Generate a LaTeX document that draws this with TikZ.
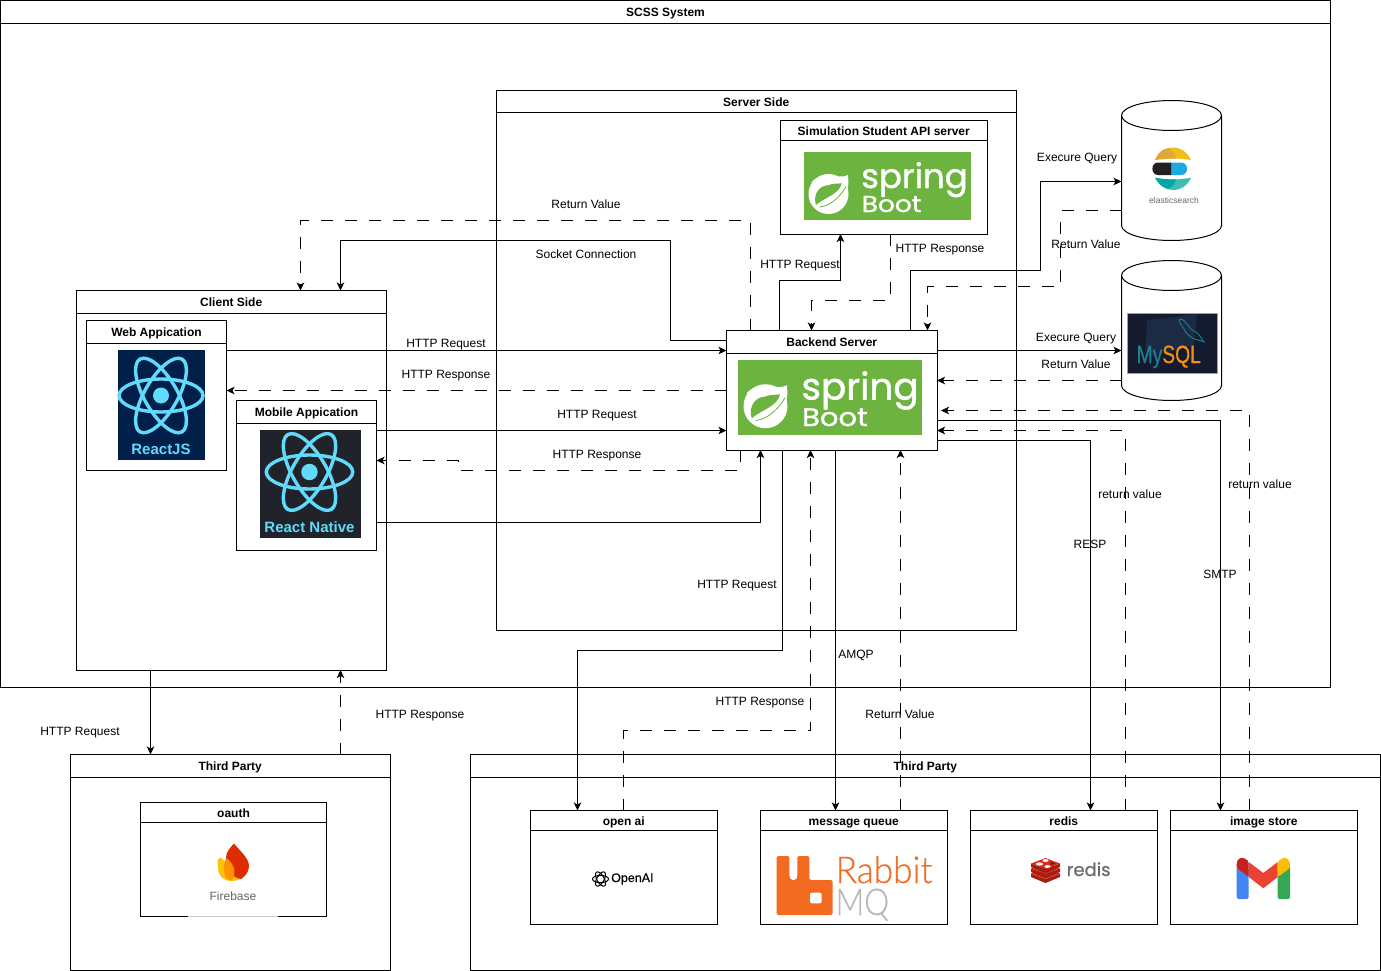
\documentclass[tikz,border=0pt]{standalone}
\usepackage{fontspec}
\setmainfont{Liberation Sans}
\newfontfamily\logofont[FakeBold=1.2]{Poppins}
\newfontfamily\redisfont[FakeBold=0.6]{Poppins}
\newfontfamily\semifont[FakeBold=0.5]{Liberation Sans}
\newfontfamily\lightfont[FakeBold=0.4]{Lato Light}
\usetikzlibrary{arrows.meta,calc}
\definecolor{reactblue}{HTML}{61DAFB}
\definecolor{springgreen}{HTML}{6DB33F}
\definecolor{gmailred}{HTML}{EA4335}
\definecolor{rabbit}{HTML}{F26B21}
\definecolor{reactnavy}{HTML}{00204A}
\definecolor{reactdark}{HTML}{20232A}
\definecolor{esyellow}{HTML}{F0BF1A}
\definecolor{esochre}{HTML}{DFA83A}
\definecolor{esblack}{HTML}{231F20}
\definecolor{esblue}{HTML}{1BA9E1}
\definecolor{esteal}{HTML}{3EBEB0}
\definecolor{esdeep}{HTML}{07A5A4}
\definecolor{myborder}{HTML}{9AA0AC}
\definecolor{myback}{HTML}{151B2E}
\definecolor{mylap}{HTML}{1D2A44}
\definecolor{myteal}{HTML}{1C7F93}
\definecolor{myorange}{HTML}{F29111}
\definecolor{fbyellow}{HTML}{FFC400}
\definecolor{fbred}{HTML}{DD2C00}
\definecolor{fborange}{HTML}{FF9100}
\definecolor{rdark}{HTML}{A41E11}
\definecolor{rmain}{HTML}{D82C20}
\definecolor{rdeep}{HTML}{7A0C00}
\definecolor{gblue}{HTML}{4285F4}
\definecolor{ggreen}{HTML}{34A853}
\definecolor{gdark}{HTML}{C5221F}
\definecolor{gyellow}{HTML}{FBBC04}
\tikzset{
  framebox/.style={draw=black,line width=1pt,inner sep=0pt,outer sep=0pt,anchor=north west},
  headbox/.style={draw=black,line width=1pt,inner sep=0pt,outer sep=0pt,anchor=north west,text height=11.5pt,text depth=1.5pt,font=\fontsize{12}{14}\selectfont\bfseries},
  lbl/.style={inner sep=0pt,text height=10.5pt,text depth=2.5pt,font=\fontsize{12}{14}\selectfont},
  solidarrow/.style={draw=black,line width=1pt,-{Stealth[length=8pt,width=7.5pt,inset=2pt]}},
  dasharrow/.style={solidarrow,dash pattern=on 12pt off 12pt},
  logotext/.style={inner sep=0pt,anchor=base west,transform shape},
  dbbody/.style={inner sep=0pt,outer sep=0pt,anchor=north west,minimum width=100pt,minimum height=140pt},
}
% name, x0, y0, x1, y1, header height, title
\newcommand{\swim}[7]{%
  \pgfmathsetlengthmacro{\bw}{#4-#2}\pgfmathsetlengthmacro{\bh}{#5-#3}%
  \node[framebox,minimum width=\bw,minimum height=\bh] (#1) at (#2-.5,#3-.5) {};
  \node[headbox,minimum width=\bw,minimum height=#6pt] (#1-title) at (#2-.5,#3-.5) {#7};
}
\newcommand{\springlogo}[3]{%
 \begin{scope}[shift={(#1,#2)},scale=#3]
  \fill[springgreen] (0,0) rectangle (167,68);
  \fill[white] (25,42) circle[radius=20pt];
  \fill[white] (8,30) .. controls (20,18) and (35,28) .. (44.5,23) .. controls (46,40) and (42,50) .. (34,58) -- (20,50) -- cycle;
  \fill[springgreen] (12.4,53) .. controls (9,41) and (17,33.3) .. (24.5,33.3) .. controls (30,31) and (34,32) .. (38.2,31.2) .. controls (36,42) and (22,45) .. cycle;
  \draw[springgreen,line width=.8pt] (16,55) .. controls (26,54) and (36,46) .. (42.7,34.3);
  \node[logotext,white,font=\logofont\fontsize{34}{34}\selectfont] at (57.5,36) {spring};
  \node[logotext,white,font=\logofont\fontsize{23}{23}\selectfont,xscale=1.15] at (58,60) {Boot};
 \end{scope}}
\newcommand{\atom}[3]{%
 \begin{scope}[shift={(#1,#2)},scale=#3]
  \foreach \ang in {0,60,120}
   \draw[reactblue,line width=3.4pt,rotate=\ang] (0,0) ellipse[x radius=42pt,y radius=16.5pt];
  \fill[reactblue] (0,0) circle[radius=8pt];
 \end{scope}}
\newcommand{\dbpath}[1]{%
  \begin{scope}[shift={(#1.north west)}]
  \draw[line width=1pt,fill=white] (0,15) .. controls (0,6.7) and (22.4,0) .. (50,0) .. controls (77.6,0) and (100,6.7) .. (100,15) -- (100,125) .. controls (100,133.3) and (77.6,140) .. (50,140) .. controls (22.4,140) and (0,133.3) .. (0,125) -- cycle;
  \draw[line width=1pt] (0,15) .. controls (0,23.3) and (22.4,30) .. (50,30) .. controls (77.6,30) and (100,23.3) .. (100,15);
  \end{scope}}
\begin{document}
\begin{tikzpicture}[x=1pt,y=-1pt]
\useasboundingbox (0,0) rectangle (1381,971);
\fill[white] (0,0) rectangle (1381,971);

% ---- containers
\swim{scss}{1}{1}{1331}{687.5}{23}{SCSS System}
\swim{server}{497}{91}{1016.5}{630.5}{22.5}{Server Side}
\swim{sim}{781}{121}{987.5}{234.5}{20}{Simulation Student API server}
\swim{client}{77}{291}{386.5}{670.5}{22.5}{Client Side}
\swim{web}{87}{321}{227}{470.5}{22.5}{Web Appication}
\swim{mobile}{237}{401}{377}{550.5}{22.5}{Mobile Appication}
\swim{backend}{727}{331}{937.5}{450.5}{22.5}{Backend Server}
\swim{tpl}{71}{755}{390.5}{970.5}{22.5}{Third Party}
\swim{oauth}{141}{803}{327}{916.5}{20}{oauth}
\swim{tpr}{471}{755}{1380.5}{970.5}{22.5}{Third Party}
\swim{openai}{531}{811}{717.5}{924.5}{20}{open ai}
\swim{mq}{761}{811}{947.5}{924.5}{20}{message queue}
\swim{redis}{971}{811}{1157.5}{924.5}{20}{redis}
\swim{store}{1171}{811}{1357.5}{924.5}{20}{image store}

% ---- databases
\node[dbbody] (es) at (1121.5,100.5) {};
\node[dbbody] (mysql) at (1121.5,260.5) {};
\dbpath{es}
\dbpath{mysql}

% ---- logos
\springlogo{803.5}{152}{1}
\springlogo{738}{360}{1.1}

\fill[reactnavy] (118,350) rectangle (204.5,460);
\atom{161}{395.5}{1}
\node[inner sep=0pt,text=reactblue,font=\fontsize{15}{15}\selectfont\bfseries] (reactjs) at (161,449) {ReactJS};
\fill[reactdark] (259.5,430) rectangle (360.5,538);
\atom{309.5}{472}{1.03}
\node[inner sep=0pt,text=reactblue,font=\fontsize{15}{15}\selectfont\bfseries] (rnative) at (309.5,527) {React Native};

% elasticsearch
\fill[esyellow] (1155,160) .. controls (1159,151) and (1167,147.5) .. (1173,147.5) .. controls (1181,147.5) and (1187,152) .. (1191,160) .. controls (1180,158) and (1166,158) .. (1155,160) -- cycle;
\fill[esochre] (1155,160) .. controls (1159,151) and (1163,149) .. (1169,148) .. controls (1173,151) and (1175,155) .. (1176,158.5) .. controls (1168,158.5) and (1162,159) .. (1155,160) -- cycle;
\fill[esblack] (1171.7,162.5) -- (1158,162.5) .. controls (1150.5,162.5) and (1150.5,175) .. (1158,175) -- (1171.7,175) -- cycle;
\fill[esblue] (1171.7,162.5) -- (1181,162.5) .. controls (1189,162.5) and (1189,175) .. (1181,175) -- (1171.7,175) -- cycle;
\fill[esteal] (1155,177.7) .. controls (1166,180) and (1180,180) .. (1191,177.7) .. controls (1187,186) and (1181,190) .. (1173,190) .. controls (1166,190) and (1159,186) .. (1155,177.7) -- cycle;
\fill[esdeep] (1155,177.7) .. controls (1161,179) and (1168,179.5) .. (1176,179.5) .. controls (1175,184) and (1172,187) .. (1168,189) .. controls (1162,187) and (1158,183) .. (1155,177.7) -- cycle;
\node[inner sep=0pt,text=black!60,font=\fontsize{8.5}{9}\selectfont] (estext) at (1174,200.5) {elasticsearch};

% mysql
\draw[myborder,fill=myback,line width=.8pt] (1127.5,313.5) rectangle (1217.5,373.5);
\fill[mylap] (1147,320) -- (1197,314) -- (1194,345) -- (1145,358) -- cycle;
\draw[myteal,line width=.9pt] (1179,320) .. controls (1181,318) and (1184,320) .. (1186,323) .. controls (1190,327) and (1190,330) .. (1196,332) .. controls (1199,334) and (1201,338) .. (1204,342) .. controls (1200,340) and (1196,340) .. (1192,338) .. controls (1190,336) and (1185,333) .. (1184,329) -- (1180,323) -- cycle;
\node[logotext,font=\semifont\fontsize{25}{25}\selectfont,xscale=.77] (mysqltext) at (1136.5,363) {\textcolor{myteal}{My}\textcolor{myorange}{SQL}};

% firebase
\fill[fbyellow] (221,857.5) .. controls (216,859) and (218,862) .. (218,867) .. controls (218,876) and (224,881) .. (231,881) .. controls (236,881) and (239,880) .. (241,878) -- cycle;
\fill[fbred] (234,843.5) .. controls (230,848) and (226,852) .. (226,858) .. controls (226,868) and (232,878) .. (241,879) .. controls (246,876) and (249,871) .. (249,866) .. controls (249,858) and (239,850) .. (234,843.5) -- cycle;
\fill[fborange] (226,858) .. controls (230,860) and (234,866) .. (234.5,871) .. controls (235,876) and (233,879) .. (231,880.5) .. controls (224,880) and (222,868) .. (226,858) -- cycle;
\node[inner sep=0pt,text=black!60,font=\fontsize{12}{12}\selectfont] (fbtext) at (233,896) {Firebase};
\draw[black!20,line width=1pt] ($(oauth.south west)+(47,0)$) -- ($(oauth.south west)+(137,0)$);

% openai
\begin{scope}[shift={(600.5,879)}]
 \foreach \ang in {0,60,120}
  \draw[black,line width=1pt,rotate=\ang] (0,0) ellipse[x radius=8pt,y radius=3.6pt];
\end{scope}
\node[inner sep=0pt,anchor=west,font=\semifont\fontsize{12.5}{12}\selectfont] (oaitext) at (611,879) {OpenAI};

% rabbitmq
\fill[rabbit,rounded corners=1.5pt] (776.7,856) -- (789.3,856) -- (789.3,877) -- (791,880) -- (796,880) -- (797.3,877) -- (797.3,856) -- (809.3,856) -- (809.3,880) -- (832.7,880) -- (832.7,915) -- (776.7,915) -- cycle;
\fill[white,rounded corners=1.5pt] (810,892.7) rectangle (821.7,903.3);
\node[logotext,text=rabbit,font=\lightfont\fontsize{37}{37}\selectfont,xscale=.95] (rtext) at (835.5,883) {Rabbit};
\node[logotext,text=black!28,font=\lightfont\fontsize{37}{37}\selectfont,xscale=.85] (mqtext) at (835.5,915) {MQ};

% redis
\begin{scope}[shift={(1045.5,0)}]
 \foreach \yy in {868,863,858}{
  \fill[rdark] (-14.5,\yy+5.5) -- (-14.5,\yy+9) -- (0,\yy+15) -- (14.5,\yy+9) -- (14.5,\yy+5.5) -- (0,\yy+11) -- cycle;
  \fill[rmain] (0,\yy) -- (14.5,\yy+5.5) -- (0,\yy+11) -- (-14.5,\yy+5.5) -- cycle;
 }
 \fill[white] (0,860.5) ellipse[x radius=3pt,y radius=1.4pt];
 \fill[white] (-6,864) ellipse[x radius=3.5pt,y radius=1.6pt];
 \fill[white] (2,866.5) ellipse[x radius=3pt,y radius=1.4pt];
 \fill[rdeep] (5,862) -- (10,863.5) -- (5,865) -- cycle;
\end{scope}
\node[inner sep=0pt,anchor=base west,text=black!58,font=\redisfont\fontsize{18}{18}\selectfont] (redistext) at (1066.5,876) {redis};

% gmail
\fill[gblue,rounded corners=2pt] (1236.7,866) -- (1248.7,868) -- (1248.7,899) -- (1236.7,899) -- cycle;
\fill[ggreen,rounded corners=2pt] (1277.7,868) -- (1290,866) -- (1290,899) -- (1277.7,899) -- cycle;
\fill[gmailred] (1248.7,862) -- (1263.3,873) -- (1277.7,862) -- (1277.7,877) -- (1263.3,888.3) -- (1248.7,877) -- cycle;
\fill[gdark,rounded corners=2pt] (1236.7,866) .. controls (1236.7,858) and (1242,856.5) .. (1247,860) -- (1248.7,861.5) -- (1248.7,877) -- (1236.7,868) -- cycle;
\fill[gyellow,rounded corners=2pt] (1290,868) .. controls (1290,858) and (1285,856.5) .. (1280,860) -- (1277.7,861.5) -- (1277.7,877) -- cycle;

% ---- connectors
\draw[solidarrow] (web.east |- 0,350.5) -- (backend.west |- 0,350.5);
\draw[dasharrow] (backend.west |- 0,390.5) -- (web.east |- 0,390.5);
\draw[solidarrow] (mobile.east |- 0,430.5) -- (backend.west |- 0,430.5);
\draw[dasharrow] (740.5,0 |- backend.south) -- (740.5,470.5) -- (458.5,470.5) -- (458.5,460.5) -- (mobile.east |- 0,460.5);
\draw[solidarrow] (mobile.east |- 0,522.5) -- (760.5,522.5) -- (760.5,0 |- backend.south);
\draw[dasharrow] (750.5,0 |- backend.north) -- (750.5,220.5) -- (300.5,220.5) -- (300.5,0 |- client.north);
\draw[solidarrow] (backend.west |- 0,340.5) -- (670.5,340.5) -- (670.5,240.5) -- (340.5,240.5) -- (340.5,0 |- client.north);
\draw[solidarrow] (779.5,0 |- backend.north) -- (779.5,280.5) -- (840.5,280.5) -- (840.5,0 |- sim.south);
\draw[dasharrow] (890.5,0 |- sim.south) -- (890.5,300.5) -- (811.5,300.5) -- (811.5,0 |- backend.north);
\draw[solidarrow] (910.5,0 |- backend.north) -- (910.5,270.5) -- (1040.5,270.5) -- (1040.5,181.5) -- (es.west |- 0,181.5);
\draw[dasharrow] (es.west |- 0,210.5) -- (1060.5,210.5) -- (1060.5,286.5) -- (927.5,286.5) -- (927.5,0 |- backend.north);
\draw[solidarrow] (backend.east |- 0,350.5) -- (mysql.west |- 0,350.5);
\draw[dasharrow] (mysql.west |- 0,380.5) -- (backend.east |- 0,380.5);
\draw[dasharrow] (1249.5,0 |- store.north) -- (1249.5,410.5) -- (941,410.5);
\draw[solidarrow] (backend.east |- 0,420.5) -- (1220.5,420.5) -- (1220.5,0 |- store.north);
\draw[dasharrow] (1125.5,0 |- redis.north) -- (1125.5,430.5) -- (backend.east |- 0,430.5);
\draw[solidarrow] (backend.east |- 0,440.5) -- (1090.5,440.5) -- (1090.5,0 |- redis.north);
\draw[solidarrow] (782.5,0 |- backend.south) -- (782.5,650.5) -- (577.5,650.5) -- (577.5,0 |- openai.north);
\draw[dasharrow] (623.5,0 |- openai.north) -- (623.5,730.5) -- (810.5,730.5) -- (810.5,0 |- backend.south);
\draw[solidarrow] (835.5,0 |- backend.south) -- (835.5,0 |- mq.north);
\draw[dasharrow] (900.5,0 |- mq.north) -- (900.5,0 |- backend.south);
\draw[solidarrow] (150.5,0 |- client.south) -- (150.5,0 |- tpl.north);
\draw[dasharrow] (340.5,0 |- tpl.north) -- (340.5,0 |- client.south);

% ---- labels
\node[lbl] (l1) at (446,343.5) {HTTP Request};
\node[lbl] (l2) at (446,374.5) {HTTP Response};
\node[lbl] (l3) at (597,414.5) {HTTP Request};
\node[lbl] (l4) at (597,454.5) {HTTP Response};
\node[lbl] (l5) at (586,204.5) {Return Value};
\node[lbl] (l6) at (586,254.5) {Socket Connection};
\node[lbl] (l7) at (800,264.5) {HTTP Request};
\node[lbl] (l8) at (940,248.5) {HTTP Response};
\node[lbl] (l9) at (1077,157.5) {Execure Query};
\node[lbl] (l10) at (1086,244.5) {Return Value};
\node[lbl] (l11) at (1076,337.5) {Execure Query};
\node[lbl] (l12) at (1076,364.5) {Return Value};
\node[lbl] (l13) at (1260,484.5) {return value};
\node[lbl] (l14) at (1130,494.5) {return value};
\node[lbl] (l15) at (1090,544.5) {RESP};
\node[lbl] (l16) at (1220,574.5) {SMTP};
\node[lbl] (l17) at (737,584.5) {HTTP Request};
\node[lbl] (l18) at (856,654.5) {AMQP};
\node[lbl] (l19) at (760,701.5) {HTTP Response};
\node[lbl] (l20) at (900,714.5) {Return Value};
\node[lbl] (l21) at (80,731.5) {HTTP Request};
\node[lbl] (l22) at (420,714.5) {HTTP Response};
\end{tikzpicture}
\end{document}
